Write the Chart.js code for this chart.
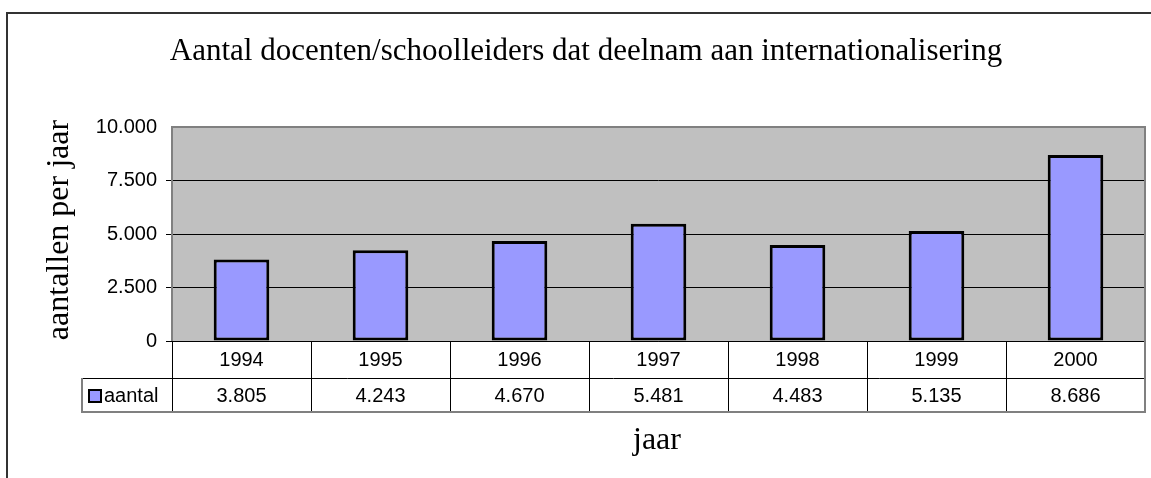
<!DOCTYPE html>
<html>
<head>
<meta charset="utf-8">
<script src="https://cdn.jsdelivr.net/npm/chart.js@4"></script>
<style>
  body { margin: 0; background: #fff; }
  #wrap { width: 1151px; height: 478px; position: relative; }
</style>
</head>
<body>
<div id="wrap"><canvas id="chart"></canvas></div>
<script>
// data
const jaren = ['1994', '1995', '1996', '1997', '1998', '1999', '2000'];
const aantal = [3805, 4243, 4670, 5481, 4483, 5135, 8686];
const yTicks = ['0', '2.500', '5.000', '7.500', '10.000'];
const titel = 'Aantal docenten/schoolleiders dat deelnam aan internationalisering';
const yTitel = 'aantallen per jaar';
const xTitel = 'jaar';
const reeksNaam = 'aantal';

const serif = '"Liberation Serif", "Times New Roman", serif';
const sans = '"Liberation Sans", Arial, sans-serif';

// punt als duizendtal-scheiding
function fmt(v) {
    return String(v).replace(/\B(?=(\d{3})+(?!\d))/g, '.');
}

const excelLook = {
    id: 'excelLook',
    beforeDraw(chart) {
        const { ctx, chartArea: a } = chart;
        ctx.save();
        ctx.fillStyle = '#c0c0c0';
        ctx.fillRect(a.left, a.top, a.right - a.left, a.bottom - a.top);
        ctx.restore();
    },
    afterDraw(chart) {
        const { ctx, chartArea: a } = chart;
        const x = chart.scales.x;
        const n = jaren.length;
        const w = (a.right - a.left) / n;
        const r1 = a.bottom, r2 = 378, r3 = 412, legLeft = 82;
        ctx.save();

        // rand plotgebied
        ctx.strokeStyle = '#808080';
        ctx.lineWidth = 2;
        ctx.beginPath();
        ctx.moveTo(a.left, a.bottom);
        ctx.lineTo(a.left, a.top);
        ctx.lineTo(a.right, a.top);
        ctx.lineTo(a.right, a.bottom);
        ctx.stroke();

        // tabel lijnen
        ctx.strokeStyle = '#000';
        ctx.lineWidth = 1;
        ctx.beginPath();
        ctx.moveTo(legLeft, r2 + 0.5);
        ctx.lineTo(a.right, r2 + 0.5);
        ctx.moveTo(a.left, r1 + 0.5);
        ctx.lineTo(a.right, r1 + 0.5);
        for (let i = 0; i < n; i++) {
            const bx = Math.round(x.getPixelForValue(i) - w / 2) + 0.5;
            ctx.moveTo(bx, r1);
            ctx.lineTo(bx, r3);
        }
        ctx.stroke();

        ctx.strokeStyle = '#808080';
        ctx.lineWidth = 2;
        ctx.beginPath();
        ctx.moveTo(legLeft, r2);
        ctx.lineTo(legLeft, r3);
        ctx.lineTo(a.right, r3);
        ctx.lineTo(a.right, r1);
        ctx.stroke();

        // tabel tekst
        ctx.fillStyle = '#000';
        ctx.font = '20px ' + sans;
        ctx.textAlign = 'center';
        ctx.textBaseline = 'middle';
        jaren.forEach((j, i) => {
            const cx = x.getPixelForValue(i);
            ctx.fillText(j, cx, (r1 + r2) / 2 + 1);
            ctx.fillText(fmt(aantal[i]), cx, (r2 + r3) / 2 + 1);
        });

        // legenda sleutel
        ctx.fillStyle = '#9999ff';
        ctx.fillRect(89, 390, 12, 12);
        ctx.strokeStyle = '#000';
        ctx.lineWidth = 2;
        ctx.strokeRect(89, 390, 12, 12);
        ctx.fillStyle = '#000';
        ctx.textAlign = 'left';
        ctx.fillText(reeksNaam, 104, (r2 + r3) / 2 + 1);

        // titels
        ctx.font = '31px ' + serif;
        ctx.textAlign = 'center';
        ctx.textBaseline = 'alphabetic';
        ctx.fillText(titel, 586, 60);

        ctx.font = '32px ' + serif;
        ctx.fillText(xTitel, 657, 449);

        ctx.save();
        ctx.translate(60, 230);
        ctx.rotate(-Math.PI / 2);
        ctx.textBaseline = 'middle';
        ctx.fillText(yTitel, 0, 0);
        ctx.restore();

        // kader
        ctx.strokeStyle = '#333';
        ctx.lineWidth = 2;
        ctx.beginPath();
        ctx.moveTo(7, 478);
        ctx.lineTo(7, 13);
        ctx.lineTo(1151, 13);
        ctx.stroke();

        ctx.restore();
    }
};

new Chart(document.getElementById('chart'), {
    type: 'bar',
    data: {
        labels: jaren,
        datasets: [{
            label: reeksNaam,
            data: aantal,
            backgroundColor: '#9999ff',
            borderColor: '#000',
            borderWidth: 3,
            borderSkipped: false,
            barPercentage: 0.4,
            categoryPercentage: 1
        }]
    },
    options: {
        responsive: true,
        maintainAspectRatio: false,
        animation: false,
        layout: { padding: { left: 0, top: 127, right: 6, bottom: 137 } },
        plugins: {
            legend: { display: false },
            tooltip: { enabled: false },
            title: { display: false }
        },
        scales: {
            x: { display: false },
            y: {
                min: 0,
                max: 10000,
                afterFit: s => { s.width = 172; },
                border: { display: false },
                ticks: {
                    stepSize: 2500,
                    padding: 9,
                    color: '#000',
                    font: { family: sans, size: 20 },
                    callback: (v, i) => yTicks[i]
                },
                grid: {
                    color: c => (c.tick && c.tick.value === 10000) ? 'rgba(0,0,0,0)' : '#000',
                    lineWidth: 1,
                    tickLength: 6,
                    drawTicks: true
                }
            }
        }
    },
    plugins: [excelLook]
});
</script>
</body>
</html>
